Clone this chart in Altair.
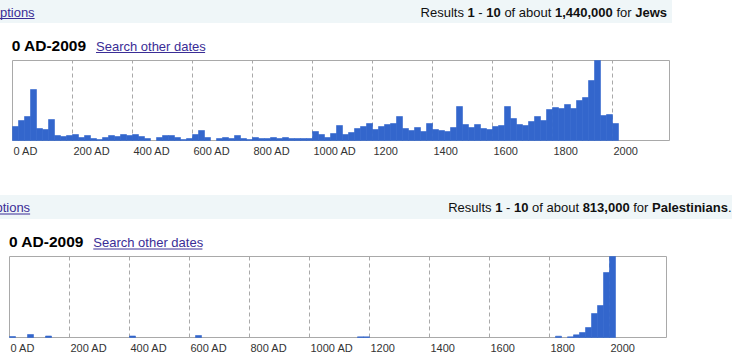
import altair as alt
import pandas as pd

# ---------------- data ----------------
bin_start = list(range(0, 2020, 20))  # 101 twenty-year bins, 0 AD .. 2000

jews = [14, 20, 24, 51, 12, 11, 21, 5, 4, 5,
        6, 3, 5, 2, 1, 3, 5, 4, 6, 5,
        6, 4, 2, 0, 3, 5, 5, 3, 1, 2,
        6, 10, 3, 0, 2, 3, 2, 5, 2, 1,
        3, 2, 2, 3, 2, 3, 2, 2, 2, 2,
        9, 6, 3, 7, 15, 6, 8, 12, 14, 17,
        11, 14, 16, 17, 24, 12, 10, 13, 9, 17,
        11, 10, 9, 13, 34, 16, 13, 16, 12, 11,
        14, 15, 34, 22, 16, 15, 19, 24, 20, 31,
        33, 32, 36, 32, 40, 43, 60, 80, 25, 26,
        17]

palestinians = [1, 0, 0, 3, 0, 0, 1.5, 0, 0, 0,
                0, 0, 0, 0, 0, 0, 0, 0, 0, 0,
                1.5, 0, 0, 0, 0, 0, 0, 0, 0, 0,
                0, 2, 0, 0, 0, 0, 0, 0, 0, 0,
                0, 0, 0, 0, 0, 0, 0, 0, 0, 0,
                0, 0, 0, 0, 0, 0, 0, 0, 0.7, 0.7,
                0, 0, 0, 0, 0, 0, 0, 0, 0, 0,
                0, 0, 0, 0, 0, 0, 0, 0, 0, 0,
                0, 0, 0, 0, 0, 0, 0, 0, 0, 0,
                0, 1.3, 0, 0.7, 2.7, 5, 10, 24, 32, 65,
                81]

tick_years = [0, 200, 400, 600, 800, 1000, 1200, 1400, 1600, 1800, 2000]
tick_labels = ["0 AD", "200 AD", "400 AD", "600 AD", "800 AD", "1000 AD",
               "1200", "1400", "1600", "1800", "2000"]
grid_years = [200, 400, 600, 800, 1000, 1200, 1400, 1600, 1800, 2000]

top_result = [("Results", False), ("1", True), ("-", False), ("10", True),
              ("of about", False), ("1,440,000", True), ("for", False), ("Jews", True)]
bottom_result = [("Results", False), ("1", True), ("-", False), ("10", True),
                 ("of about", False), ("813,000", True), ("for", False),
                 ("Palestinians", True), (".", False)]
date_range = "0 AD-2009"
link_text = "Search other dates"

# ---------------- styling ----------------
FONT = "Liberation Sans"
BAR = "#3366cc"
GRID = "#a9a9a9"
LINK = "#3a2d96"
HEADER_BG = "#eff6f8"

REG = {'R': 722, 'e': 556, 's': 500, 'u': 556, 'l': 222, 't': 278, ' ': 278, '1': 556,
       '-': 333, '0': 556, 'o': 556, 'f': 278, 'a': 556, 'b': 556, ',': 278, '4': 556,
       'r': 333, 'J': 500, 'w': 722, '8': 556, '3': 556, 'P': 667, 'i': 222, 'n': 556,
       '.': 278, 'p': 556}
BOLD = {'R': 722, 'e': 556, 's': 556, 'u': 611, 'l': 278, 't': 333, ' ': 278, '1': 556,
        '-': 333, '0': 556, 'o': 611, 'f': 333, 'a': 556, 'b': 611, ',': 278, '4': 556,
        'r': 389, 'J': 556, 'w': 778, '8': 556, '3': 556, 'P': 667, 'i': 278, 'n': 611,
        '.': 278}


def wid(txt, bold, size):
    table = BOLD if bold else REG
    return sum(table.get(c, 556) for c in txt) * size / 1000.0


def layout_tokens(tokens, right, y, size=13):
    rows = []
    widths = []
    total = 0.0
    for i, (t, b) in enumerate(tokens):
        gap = 0.0 if (i == 0 or t == ".") else wid(" ", False, size)
        w = wid(t, b, size)
        widths.append((gap, w))
        total += gap + w
    x = right - total
    for (t, b), (gap, w) in zip(tokens, widths):
        x += gap
        rows.append({"t": t, "bold": b, "x": x, "y": y})
        x += w
    return rows


text_rows = layout_tokens(top_result, 667, 16.5) + layout_tokens(bottom_result, 731.5, 212)
text_df = pd.DataFrame(text_rows)

bg_df = pd.DataFrame({"x": [0, 0], "x2": [672, 732], "y": [0, 195], "y2": [23, 219]})

W, H = 740, 364


def header_layers():
    bg = alt.Chart(bg_df).mark_rect(color=HEADER_BG).encode(
        x=alt.X("x:Q", scale=None), x2="x2:Q",
        y=alt.Y("y:Q", scale=None), y2="y2:Q")
    reg = alt.Chart(text_df).transform_filter("!datum.bold").mark_text(
        align="left", baseline="alphabetic", font=FONT, fontSize=13, color="#111").encode(
        x=alt.X("x:Q", scale=None), y=alt.Y("y:Q", scale=None), text="t:N")
    bold = alt.Chart(text_df).transform_filter("datum.bold").mark_text(
        align="left", baseline="alphabetic", font=FONT, fontSize=13, fontWeight="bold",
        color="#111").encode(
        x=alt.X("x:Q", scale=None), y=alt.Y("y:Q", scale=None), text="t:N")
    return [bg, reg, bold]


def link(txt, x, y, size=13, cut=0.0):
    w = wid(txt, False, size)
    d = pd.DataFrame({"t": [txt], "x": [x], "y": [y], "ux": [x + cut], "ux2": [x + w], "uy": [y + 2]})
    t = alt.Chart(d).mark_text(align="left", baseline="alphabetic", font=FONT,
                                fontSize=size, color=LINK).encode(
        x=alt.X("x:Q", scale=None), y=alt.Y("y:Q", scale=None), text="t:N")
    u = alt.Chart(d).mark_rule(color=LINK, strokeWidth=1).encode(
        x=alt.X("ux:Q", scale=None), x2="ux2:Q", y=alt.Y("uy:Q", scale=None))
    return [t, u]


def panel(values, xrange, yrange, ymax, title_x, title_y, link_x, label_y):
    df = pd.DataFrame({"start": bin_start, "end": [s + 20 for s in bin_start],
                       "v": values, "zero": [0] * len(values)})
    xs = alt.Scale(domain=[0, 2190], range=xrange, nice=False, zero=False)
    ys = alt.Scale(domain=[0, ymax], range=yrange, nice=False)
    box_df = pd.DataFrame({"x0": [0], "x1": [2190], "y0": [0], "y1": [ymax]})
    box = alt.Chart(box_df).mark_rect(fill="white", stroke=GRID, strokeWidth=1).encode(
        x=alt.X("x0:Q", scale=xs, axis=None), x2="x1:Q",
        y=alt.Y("y0:Q", scale=ys, axis=None), y2="y1:Q")
    gdf = pd.DataFrame({"yr": grid_years, "lo": [0] * len(grid_years),
                        "hi": [ymax] * len(grid_years)})
    grid = alt.Chart(gdf).mark_rule(color=GRID, strokeDash=[4, 3], strokeWidth=1).encode(
        x=alt.X("yr:Q", scale=xs, axis=None),
        y=alt.Y("lo:Q", scale=ys, axis=None), y2="hi:Q")
    bars = alt.Chart(df).transform_filter("datum.v > 0").mark_rect(
        color=BAR, stroke=BAR, strokeWidth=0.6).encode(
        x=alt.X("start:Q", scale=xs, axis=None), x2="end:Q",
        y=alt.Y("v:Q", scale=ys, axis=None), y2="zero:Q")
    ldf = pd.DataFrame({"yr": tick_years, "lab": tick_labels})
    labels = alt.Chart(ldf).mark_text(align="left", baseline="alphabetic", font=FONT,
                                      fontSize=11, color="#333", dx=1).encode(
        x=alt.X("yr:Q", scale=xs, axis=None), y=alt.value(label_y), text="lab:N")
    title = alt.Chart(pd.DataFrame({"t": [date_range]})).mark_text(
        align="left", baseline="alphabetic", font=FONT, fontSize=15.5, fontWeight="bold",
        color="#000").encode(x=alt.value(title_x), y=alt.value(title_y), text="t:N")
    return alt.layer(box, grid, bars, labels, title, *link(link_text, link_x, title_y))


top = panel(jews, [12.5, 669.5], [140.5, 60.5], 80, 11.7, 50.5, 96, 155)
bottom = panel(palestinians, [9.5, 666.5], [337.5, 256.5], 81, 9, 247, 93.3, 352)

layers = header_layers() + link("options", -7.3, 16.5, cut=7.3) + link("options", -11.8, 212, cut=11.8)

chart = alt.layer(*layers, top, bottom).resolve_scale(
    x="independent", y="independent"
).properties(
    width=W, height=H, padding=0, background="white",
    autosize=alt.AutoSizeParams(type="none")
).configure_view(stroke=None)

chart.save("out.html", embed_options={"renderer": "svg", "actions": False})
